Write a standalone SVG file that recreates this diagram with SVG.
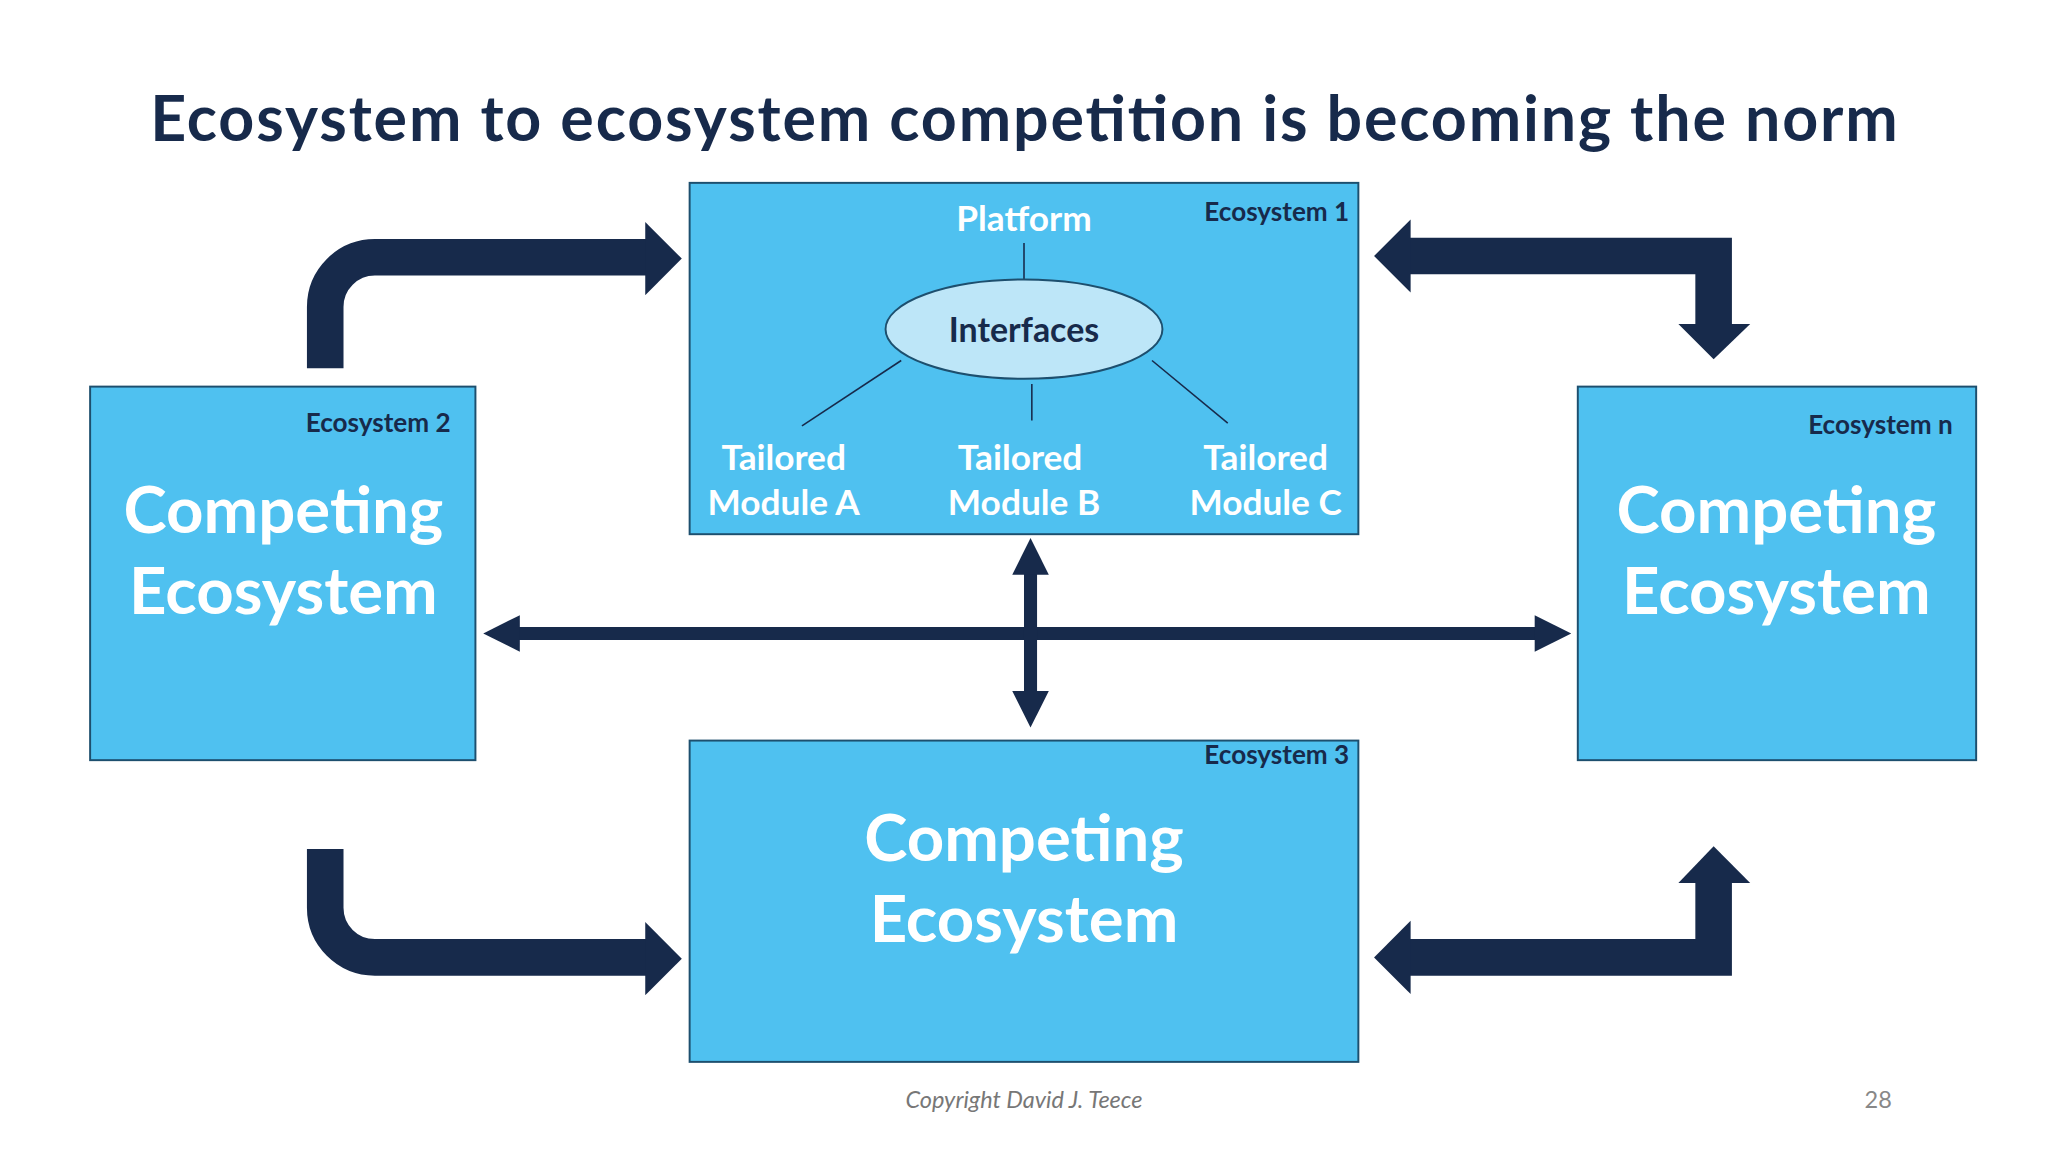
<svg xmlns="http://www.w3.org/2000/svg" width="2048" height="1152" viewBox="0 0 2048 1152">
<style>
.box{fill:#4fc1f0;stroke:#1d4f6e;stroke-width:1.5}
.t{font-family:Lato,"Open Sans",sans-serif}
.lbl{font-family:Lato,sans-serif;font-size:20px;font-weight:bold;fill:#172a4b;text-anchor:end}
.big{font-family:Lato,sans-serif;font-size:50px;font-weight:bold;fill:#fff;text-anchor:middle}
.mod{font-family:Lato,sans-serif;font-size:27px;font-weight:bold;fill:#fff;text-anchor:middle}
.arr{fill:none;stroke:#172a4b;stroke-width:28}
.ln{stroke:#172a4b;stroke-width:1.2}
.hd{fill:#172a4b}
</style>
<rect width="2048" height="1152" fill="#fff"/>
<g transform="scale(1.30612)">
<text x="784" y="108" class="t" font-size="48" font-weight="bold" fill="#172a4b" text-anchor="middle" textLength="1338">Ecosystem to ecosystem competition is becoming the norm</text>
<g id="eco1">
<rect class="box" x="528" y="140" width="512" height="269"/>
<text x="1033" y="169" class="lbl">Ecosystem 1</text>
<text x="784" y="177" class="mod" font-size="28">Platform</text>
<line class="ln" x1="784" y1="186" x2="784" y2="214" stroke-width="2"/>
<ellipse cx="784" cy="252" rx="106" ry="38" fill="#bde6f8" stroke="#1d4f6e" stroke-width="1.5"/>
<text x="784" y="262" class="t" font-size="26" font-weight="bold" fill="#172a4b" text-anchor="middle">Interfaces</text>
<line class="ln" x1="690" y1="276" x2="614" y2="326"/>
<line class="ln" x1="790" y1="294" x2="790" y2="322"/>
<line class="ln" x1="882" y1="276" x2="940" y2="324"/>
<text class="mod"><tspan x="600" y="360">Tailored</tspan><tspan x="600" y="394">Module A</tspan></text>
<text class="mod"><tspan x="781" y="360">Tailored</tspan><tspan x="784" y="394">Module B</tspan></text>
<text class="mod"><tspan x="969" y="360">Tailored</tspan><tspan x="969" y="394">Module C</tspan></text>
</g>
<g id="eco2">
<rect class="box" x="69" y="296" width="295" height="286"/>
<text x="345" y="331" class="lbl">Ecosystem 2</text>
<text class="big"><tspan x="217" y="408">Competing</tspan><tspan x="217" y="470">Ecosystem</tspan></text>
</g>
<g id="econ">
<rect class="box" x="1208" y="296" width="305" height="286"/>
<text x="1495" y="332" class="lbl">Ecosystem n</text>
<text class="big"><tspan x="1360" y="408">Competing</tspan><tspan x="1360" y="470">Ecosystem</tspan></text>
</g>
<g id="eco3">
<rect class="box" x="528" y="567" width="512" height="246"/>
<text x="1033" y="585" class="lbl">Ecosystem 3</text>
<text class="big"><tspan x="784" y="659">Competing</tspan><tspan x="784" y="721">Ecosystem</tspan></text>
</g>
<g id="connectors">
<path class="arr" d="M249,282 V235 A38,38 0 0 1 287,197 H497"/>
<polygon class="hd" points="494,170 522,198 494,226"/>
<path class="arr" d="M249,650 V695 A38,38 0 0 0 287,733 H497"/>
<polygon class="hd" points="494,706 522,734 494,762"/>
<path class="arr" d="M1078,196 H1312 V250" stroke-linejoin="miter"/>
<polygon class="hd" points="1080,168 1052,196 1080,224"/>
<polygon class="hd" points="1285,248 1340,248 1312,275"/>
<path class="arr" d="M1078,733 H1312 V674" stroke-linejoin="miter"/>
<polygon class="hd" points="1080,705 1052,733 1080,761"/>
<polygon class="hd" points="1285,676 1340,676 1312,648"/>
<line x1="395" y1="485" x2="1178" y2="485" stroke="#172a4b" stroke-width="10"/>
<polygon class="hd" points="398,471 370,485 398,499"/>
<polygon class="hd" points="1175,471 1203,485 1175,499"/>
<line x1="789" y1="438" x2="789" y2="532" stroke="#172a4b" stroke-width="10"/>
<polygon class="hd" points="775,440 789,412 803,440"/>
<polygon class="hd" points="775,529 789,557 803,529"/>
</g>
<text x="784" y="848" class="t" font-size="18" font-style="italic" fill="#777" text-anchor="middle">Copyright David J. Teece</text>
<text x="1438" y="848" class="t" font-size="18" fill="#888" text-anchor="middle">28</text>
</g>
</svg>
